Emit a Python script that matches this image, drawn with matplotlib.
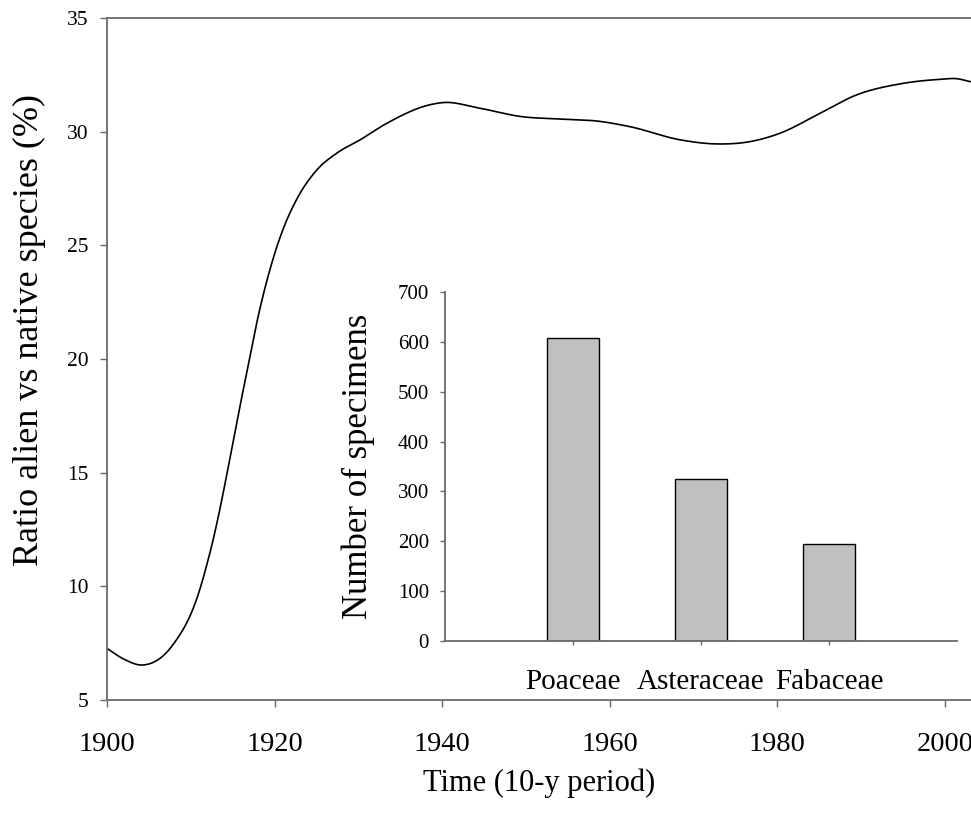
import numpy as np
import matplotlib
matplotlib.use('Agg')
import matplotlib.pyplot as plt

# ratio curve (year, %)
years = [1900.0, 1902.0, 1904.3, 1907.7, 1910.9, 1912.3, 1916.4, 1918.3,
         1919.65, 1921.0, 1922.6, 1925.0, 1927.4, 1930.2, 1933.4, 1938.5, 1940.1,
         1944.5, 1949.3, 1954.4, 1958.4, 1962.4, 1968.4, 1972.7, 1976.7, 1980.3,
         1985.1, 1989.4, 1994.6, 1999.4, 2001.4, 2003.0]
ratio = [7.27, 6.80, 6.54, 7.35, 9.66, 11.5, 18.9, 22.3,
         24.2, 25.7, 27.0, 28.3, 29.05, 29.64, 30.37, 31.18, 31.28,
         31.03, 30.67, 30.55, 30.47, 30.22, 29.64, 29.46, 29.56, 29.93,
         30.81, 31.61, 32.10, 32.30, 32.33, 32.20]
year_ticks = [1900, 1920, 1940, 1960, 1980, 2000]
ratio_ticks = [5, 10, 15, 20, 25, 30, 35]

# inset bar chart
families = ['Poaceae', 'Asteraceae', 'Fabaceae']
specimens = [607, 325, 195]
specimen_ticks = [0, 100, 200, 300, 400, 500, 600, 700]


def smooth_line(x, y, n=25):
    # cubic hermite through the points, like a smoothed line in a spreadsheet
    x = np.asarray(x, float)
    y = np.asarray(y, float)
    m = np.gradient(y, x)
    xs, ys = [], []
    for i in range(len(x) - 1):
        h = x[i + 1] - x[i]
        t = np.linspace(0, 1, n, endpoint=False)
        h00 = 2 * t**3 - 3 * t**2 + 1
        h10 = t**3 - 2 * t**2 + t
        h01 = -2 * t**3 + 3 * t**2
        h11 = t**3 - t**2
        xs.append(x[i] + t * h)
        ys.append(h00 * y[i] + h10 * h * m[i] + h01 * y[i + 1] + h11 * h * m[i + 1])
    xs.append([x[-1]])
    ys.append([y[-1]])
    return np.concatenate(xs), np.concatenate(ys)


plt.rcParams['font.family'] = 'Liberation Serif'
grey = '#6a6a6a'

fig = plt.figure(figsize=(9.71, 8.25), dpi=100)

# main line chart
ax = fig.add_axes([0.1102, 0.1515, 0.8898, 0.8267])
sx, sy = smooth_line(years, ratio)
ax.plot(sx, sy, color='black', lw=1.2)
ax.set_xlim(1900, 2003.1)
ax.set_ylim(5, 35)
ax.set_xticks(year_ticks)
ax.set_yticks(ratio_ticks)
ax.spines['right'].set_visible(False)
for s in ['left', 'top', 'bottom']:
    ax.spines[s].set_color(grey)
    ax.spines[s].set_linewidth(1.3)
ax.tick_params(axis='y', direction='out', length=5, width=1, color=grey,
               labelsize=15.5, pad=8.5)
ax.tick_params(axis='x', direction='out', length=5, width=1, color=grey,
               labelsize=20.5, pad=18)
ax.set_xlabel('Time (10-y period)', fontsize=22)
ax.xaxis.set_label_coords(0.5, -0.1)
ax.set_ylabel('Ratio alien vs native species (%)', fontsize=26)
ax.yaxis.set_label_coords(-0.071, 0.5425)

# inset
ins = fig.add_axes([0.4583, 0.2230, 0.5273, 0.4230])
pos = np.arange(1, len(families) + 1)
ins.bar(pos, specimens, width=0.4, color='#c0c0c0', edgecolor='black', linewidth=1)
ins.set_xlim(0, 4)
ins.set_ylim(0, 700)
ins.set_xticks(pos)
ins.set_xticklabels(families)
ins.set_yticks(specimen_ticks)
ins.patch.set_alpha(0)
ins.spines['right'].set_visible(False)
ins.spines['top'].set_visible(False)
for s in ['left', 'bottom']:
    ins.spines[s].set_color(grey)
    ins.spines[s].set_linewidth(1.3)
ins.tick_params(axis='y', direction='out', length=3.6, width=1, color=grey,
                labelsize=15, pad=8)
ins.tick_params(axis='x', direction='out', length=3, width=1, color=grey,
                labelsize=21, pad=17)
ins.set_ylabel('Number of specimens', fontsize=25)
ins.yaxis.set_label_coords(-0.137, 0.5)

plt.savefig('out.png', dpi=100)
